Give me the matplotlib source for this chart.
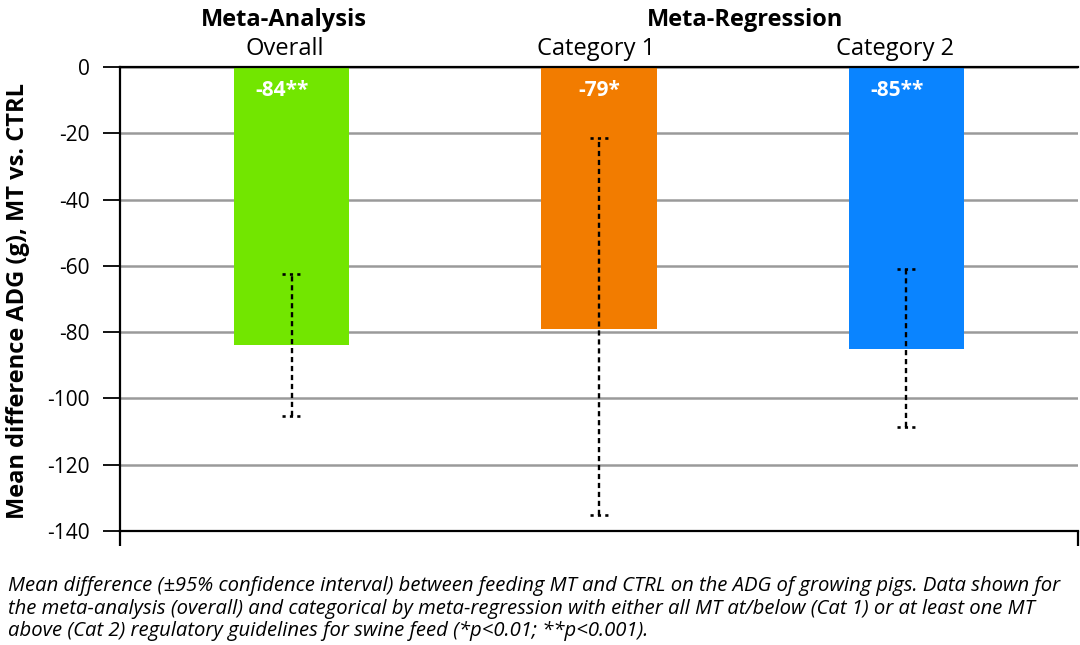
import matplotlib

matplotlib.use("Agg")
import matplotlib.pyplot as plt
import numpy as np

# Values.
groups = ["Overall", "Category 1", "Category 2"]
means = [-84, -79, -85]
value_labels = ["-84**", "-79*", "-85**"]
ci_high = [-62.5, -21.5, -61.0]
ci_low = [-105.3, -135.2, -108.6]
yticks = [0, -20, -40, -60, -80, -100, -120, -140]

GREEN = "#72E600"
ORANGE = "#F27C00"
BLUE = "#0A84FF"
GRID = "#9a9a9a"

plt.rcParams["font.family"] = ["Open Sans", "DejaVu Sans"]

fig = plt.figure(figsize=(10.8, 6.45), dpi=100)
ax = fig.add_axes([0.1111, 0.1767, 0.887, 0.7194])

x = np.arange(len(groups))
ax.bar(x, means, width=0.375, color=[GREEN, ORANGE, BLUE], zorder=2)

# dotted 95% CI whiskers
ax.vlines(x, ci_low, ci_high, colors="black", linestyles=(0, (2.2, 1.6)), lw=1.7, zorder=3)
for y in (ci_low, ci_high):
    ax.hlines(y, x - 0.03, x + 0.03, colors="black", linestyles=(0, (1.2, 1.6)), lw=1.9, zorder=3)

for xi, lab in zip(x, value_labels):
    ax.text(xi - 0.03 * (lab.count("*") - 1), -7.0, lab, ha="center", va="center",
            color="white", fontsize=15, fontweight="bold", zorder=4)

xlim = (-0.5586, 2.5586)
ax.set_xlim(*xlim)
ax.set_ylim(-140, 0)
ax.set_yticks(yticks)
ax.set_yticklabels([str(v) for v in yticks], fontsize=15)
ax.set_xticks(list(xlim))
ax.set_xticklabels(["", ""])
ax.yaxis.grid(True, color=GRID, lw=1.8, zorder=1)
ax.set_axisbelow(True)
ax.tick_params(axis="y", length=12, width=1.3, pad=10, color="black")
ax.tick_params(axis="x", length=11, width=1.6, color="black")
for side in ("left", "top", "bottom"):
    ax.spines[side].set_linewidth(1.6)
    ax.spines[side].set_color("black")
ax.spines["right"].set_visible(False)

fig.text(18 / 1080, 1 - 301 / 645, "Mean difference ADG (g), MT vs. CTRL", rotation=90,
         ha="center", va="center", fontsize=17, fontweight="bold")

# Group headers above the plot.
xt = ax.get_xaxis_transform()
ax.text(-0.024, 1.0884, "Meta-Analysis", transform=xt,
        ha="center", va="baseline", fontsize=17, fontweight="bold")
ax.text(1.4756, 1.0884, "Meta-Regression", transform=xt,
        ha="center", va="baseline", fontsize=17, fontweight="bold")
for xi, g in zip([-0.024, 0.992, 1.9625], groups):
    ax.text(xi, 1.0259, g, transform=xt, ha="center", va="baseline", fontsize=17)

caption = ("Mean difference (±95% confidence interval) between feeding MT and CTRL on the ADG of growing pigs. Data shown for\n"
           "the meta-analysis (overall) and categorical by meta-regression with either all MT at/below (Cat 1) or at least one MT\n"
           "above (Cat 2) regulatory guidelines for swine feed (*p<0.01; **p<0.001).")
fig.text(0.007, 0.107, caption, ha="left", va="top", fontsize=14.6, style="italic",
         linespacing=1.17)

fig.savefig("out.png", dpi=100)
